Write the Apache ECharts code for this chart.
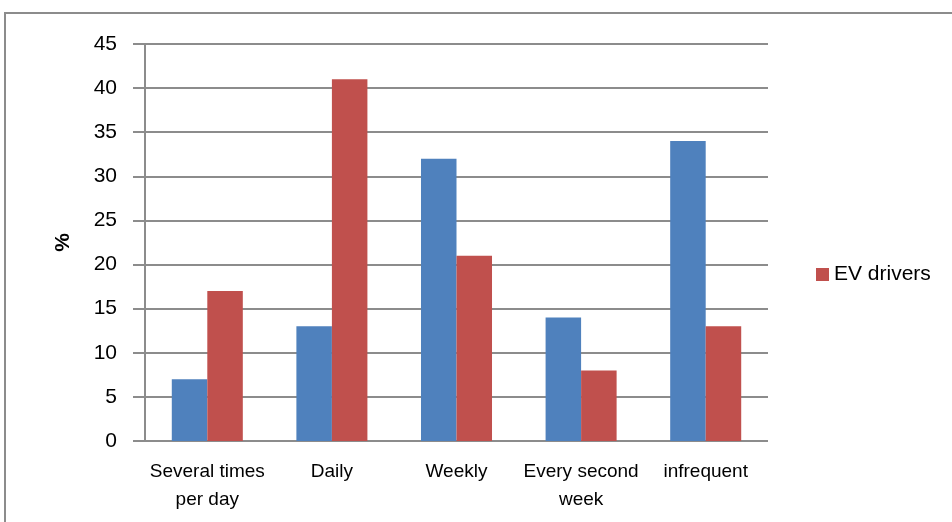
<!DOCTYPE html>
<html><head><meta charset="utf-8">
<script src="https://cdn.jsdelivr.net/npm/echarts@6/dist/echarts.min.js"></script>
<style>html,body{margin:0;padding:0;background:#fff}#c{width:952px;height:522px}</style>
</head><body><div id="c"></div>
<script>
const categories = ['Several times\nper day', 'Daily', 'Weekly', 'Every second\nweek', 'infrequent'];
const otherValues = [7, 13, 32, 14, 34];
const evValues = [17, 41, 21, 8, 13];
const yTicks = [0, 45, 5];
const font = "'Liberation Sans', 'Open Sans', sans-serif";
const chart = echarts.init(document.getElementById('c'), null, {renderer: 'canvas'});
chart.setOption({
  animation: false,
  backgroundColor: '#fff',
  graphic: [{
    type: 'polyline', silent: true,
    shape: {points: [[5, 522], [5, 13], [952, 13]]},
    style: {stroke: '#8c8c8c', lineWidth: 2, fill: null}
  }],
  grid: {left: 145, right: 184, top: 44, bottom: 81, containLabel: false},
  legend: {
    data: ['EV drivers'], orient: 'vertical', left: 811, top: 259,
    icon: 'rect', itemWidth: 13, itemHeight: 13, itemGap: 6,
    textStyle: {fontFamily: font, fontSize: 21, color: '#000'}
  },
  xAxis: {
    type: 'category', data: categories,
    axisLine: {show: false},
    axisTick: {show: false},
    axisLabel: {fontFamily: font, fontSize: 19, color: '#000', lineHeight: 28, margin: 17, interval: 0}
  },
  yAxis: {
    type: 'value', min: yTicks[0], max: yTicks[1], interval: yTicks[2],
    name: '%', nameLocation: 'middle', nameGap: 71, nameRotate: 90,
    nameTextStyle: {fontFamily: font, fontSize: 21, color: '#000', fontWeight: 'bold'},
    axisLine: {show: true, lineStyle: {color: '#8c8c8c', width: 2}},
    axisTick: {show: true, length: 12, lineStyle: {color: '#8c8c8c', width: 2}},
    axisLabel: {fontFamily: font, fontSize: 21, color: '#000', margin: 28},
    splitLine: {show: true, lineStyle: {color: '#8c8c8c', width: 2}}
  },
  series: [
    {name: 'Other', type: 'bar', data: otherValues, itemStyle: {color: '#4F81BD'}, barGap: '0%', barCategoryGap: '43%'},
    {name: 'EV drivers', type: 'bar', data: evValues, itemStyle: {color: '#C0504D'}, barGap: '0%', barCategoryGap: '43%'}
  ]
});
</script></body></html>
